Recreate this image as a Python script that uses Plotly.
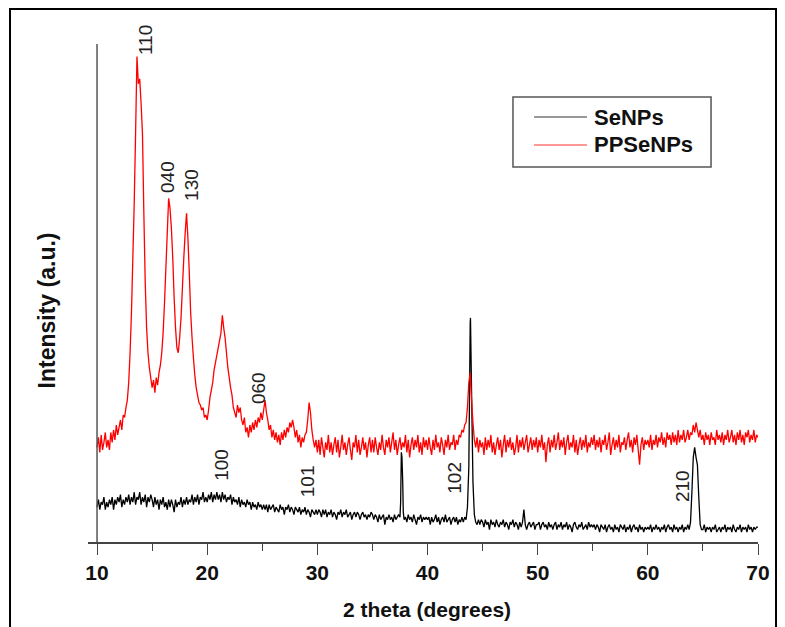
import numpy as np
import plotly.graph_objects as go

# XRD patterns, 2 theta in degrees, intensity in arbitrary units
x_grid = np.round(10 + 0.125 * np.arange(481), 3)

# PPSeNPs on the 0.125 deg grid, one row = 5 degrees (40 values)
red_y = [
    19, 21, 18, 21.5, 18.5, 20, 22, 19, 20.5, 18.5, 22, 20, 22.5, 20.5, 23.5, 21.5, 23, 24.5, 22.5, 25.5,
    25, 27, 28.5, 32, 38, 46, 57, 68, 82, 97.5, 92, 93, 88, 82, 66, 52, 43, 38, 35, 33,
    31, 32.5, 30, 33, 31.5, 34, 35.5, 38, 42, 48, 55, 62, 69, 67, 63, 57, 49, 43, 39, 38,
    41, 45, 51, 57, 62, 66, 61, 54, 46, 41, 37, 33.5, 31, 29.5, 28, 27.5, 26.5, 27, 25, 25.5,
    24.5, 26.5, 29, 30.5, 32, 34.5, 36, 37.5, 39, 40.5, 42, 45.5, 43, 41, 38, 35, 33, 31, 29.5, 27,
    26, 25, 27.5, 26, 27, 24.5, 23.5, 25, 22, 23, 21, 23.5, 22, 24, 22.5, 24.5, 23, 25, 24, 26,
    24.5, 26.5, 28.5, 26, 24.5, 22.5, 23.5, 21, 22.5, 20.5, 22, 20, 21.5, 19.5, 22, 20.5, 22.5, 21, 23, 22,
    24, 23, 24.5, 23, 21, 22.5, 20, 21.5, 19, 21, 20, 21.5, 22, 24.5, 28, 26, 22.5, 20.5, 19, 20.5,
    18, 20.5, 17.5, 21, 19, 17, 20, 18.5, 21.5, 18, 20, 17.5, 19.5, 21, 18, 20.5, 17, 19, 21.5, 18.5,
    20, 17.5, 19.5, 21, 18.5, 16.5, 20, 19, 21.5, 18, 20.5, 17.5, 19, 21, 18.5, 20, 17, 19.5, 21, 18,
    20.5, 18, 21, 19, 17.5, 20, 18.5, 21.5, 19, 17.5, 20.5, 19, 21, 18, 20, 22, 18.5, 20.5, 17.5, 19.5,
    21, 18.5, 20, 19, 21.5, 18, 20.5, 17, 19.5, 21, 18.5, 20.5, 19, 21.5, 18, 20, 17.5, 21, 19, 20.5,
    18.5, 21, 19, 17.5, 20.5, 18.5, 21.5, 19, 20, 18, 21, 19.5, 17.5, 20.5, 19, 21.5, 18.5, 20, 19.5, 21.5,
    18.5, 20.5, 19.5, 21.5, 21, 22.5, 22, 23.5, 24, 27, 32, 34, 28.5, 24, 20.5, 19, 21, 18, 20.5, 19,
    20, 17.5, 21, 18.5, 20.5, 19, 21.5, 18, 20, 17.5, 19.5, 21, 18.5, 20.5, 17, 19.5, 21.5, 18, 20.5, 19,
    21, 18.5, 20, 17.5, 19, 21.5, 18, 20.5, 19, 21, 18.5, 20, 21.5, 18, 19.5, 21, 18.5, 20.5, 19, 21,
    18, 20.5, 19, 21.5, 18.5, 20, 16, 19.5, 21, 18, 20.5, 19, 21.5, 18.5, 20, 22, 18.5, 20.5, 19, 21,
    17.5, 20, 21.5, 18.5, 20, 19, 21.5, 18, 20.5, 17.5, 19.5, 21, 18.5, 20.5, 19, 21.5, 18, 20, 19, 21,
    19.5, 21.5, 18.5, 20.5, 19, 21, 18, 20.5, 19.5, 21.5, 18.5, 20, 22, 17.5, 19.5, 21, 18.5, 20.5, 19, 21.5,
    18, 20, 19.5, 21, 18.5, 20.5, 22, 19, 20.5, 18, 21, 19.5, 21.5, 18.5, 15.5, 19.5, 21, 18.5, 20.5, 19.5,
    20.5, 19, 21.5, 18.5, 20.5, 19.5, 21.5, 19, 21, 20, 22, 19.5, 21, 19, 22, 20.5, 21.5, 19.5, 22, 20,
    21.5, 19.5, 22.5, 20, 21.5, 20.5, 22.5, 20, 21, 22.5, 20.5, 22, 21.5, 23.5, 22, 24, 22.5, 21, 22.5, 20.5,
    21.5, 19.5, 22, 20.5, 21.5, 19.5, 22, 20.5, 21, 19.5, 22.5, 20.5, 21.5, 20, 22, 19.5, 21.5, 20.5, 22.5, 20,
    21, 22.5, 20, 21.5, 19.5, 22, 20.5, 22.5, 20, 21.5, 19.5, 22, 21, 22.5, 20, 21.5, 20.5, 22.5, 20, 21.5,
    21,
]

# SeNPs on the same grid
black_y = [
    7, 8.5, 6.5, 8, 7.5, 9, 6.5, 8, 7, 8.5, 7.5, 9, 6.5, 8.5, 7.5, 9, 8, 9.5, 7, 8.5,
    7.5, 9, 8, 9.5, 7.5, 9, 8, 10, 7.5, 9, 8.5, 10, 7.5, 9, 8, 9.5, 7, 9, 8, 9.5,
    8.5, 7, 9, 7.5, 8.5, 6.5, 8.5, 7.5, 9, 7, 8, 6.5, 8.5, 7, 8.5, 7.5, 6, 8.5, 7, 8,
    7.5, 9, 7, 8.5, 7.5, 9, 7.5, 8.5, 8, 9.5, 7.5, 9, 8, 9.5, 7.5, 9, 8.5, 10, 8, 9,
    8, 9.5, 8.5, 10, 8, 9.5, 8.5, 10, 8.5, 9.5, 8, 10, 8.5, 9.5, 8, 9, 8.5, 9.5, 7.5, 9,
    8, 8.5, 7.5, 9, 7, 8.5, 7.5, 8, 7, 8.5, 7.5, 8, 6.5, 8, 7, 7.5, 6.5, 8, 7, 7.5,
    6.5, 7.5, 6.5, 7.5, 6, 7.5, 6.5, 7, 7.5, 6, 7, 6.5, 6, 7.5, 6.5, 7, 5.5, 7, 6.5, 7.5,
    6, 7, 6.5, 5.5, 7, 6.5, 6, 7, 5.5, 6.5, 6, 7, 5.5, 6.5, 6, 5, 6.5, 6, 5.5, 6.5,
    5.5, 6.5, 6, 5, 6.5, 5.5, 6.5, 5, 6, 5.5, 6.5, 5, 6, 5.5, 4.5, 6, 5.5, 6.5, 5, 6,
    5.5, 6.5, 5, 5.5, 6, 4.5, 5.5, 6, 5, 6, 5.5, 4.5, 5.5, 6, 5, 5.5, 4.5, 5.5, 5, 6,
    5.5, 4.5, 5.5, 5, 4, 5.5, 4.5, 5, 5.5, 3.5, 5, 4.5, 5.5, 4.5, 5, 4, 5.5, 4.5, 5, 5.5,
    5, 18, 12, 4.5, 5, 4, 5.5, 4.5, 5, 4, 5.5, 4.5, 3.5, 5, 4.5, 5.5, 4, 5, 4.5, 5,
    4.5, 5, 3.5, 5, 4, 4.5, 5.5, 4, 5, 3.5, 4.5, 5, 4, 5.5, 4, 4.5, 5, 3.5, 4.5, 5,
    4, 5, 3.5, 4.5, 4, 5, 4, 5, 4.5, 7, 15, 44, 30, 12, 5.5, 4, 3.5, 4.5, 3.5, 4.5,
    4, 3, 4.5, 3.5, 4, 2.5, 4.5, 3.5, 4, 3, 4.5, 3.5, 3, 4, 3.5, 4.5, 3, 4, 3.5, 2.5,
    4, 3.5, 4.5, 3, 4, 3.5, 2.5, 4, 3, 4, 6.5, 3.5, 2.5, 3.5, 4, 3, 3.5, 4, 2.5, 3.5,
    3.5, 4, 2.5, 3.5, 4, 3, 3.5, 2.5, 4, 3, 3.5, 2.5, 3.5, 4, 2.5, 3.5, 3, 4, 2.5, 3.5,
    3, 4, 2.5, 3.5, 3, 2, 3.5, 4, 3, 2.5, 3.5, 3, 4, 2.5, 3, 3.5, 2.5, 4, 3, 3.5,
    3, 3.5, 2.5, 3.5, 3, 2, 3.5, 3, 2.5, 3.5, 2, 3, 3.5, 2.5, 3, 2, 3.5, 2.5, 3, 2,
    3.5, 3, 2.5, 3.5, 2, 3, 2.5, 3.5, 2, 3, 3.5, 2.5, 3, 2, 3.5, 2.5, 3, 2, 3, 2.5,
    3, 2.5, 3.5, 2, 3, 2.5, 3.5, 2.5, 3, 2, 3, 2.5, 3.5, 2, 3, 3.5, 2.5, 3, 2, 3.5,
    2.5, 3, 2, 3, 2.5, 3.5, 2, 3, 2.5, 3.5, 2.5, 4, 10, 17, 19, 17, 15.5, 9, 3.5, 2.5,
    2.5, 3.5, 2, 3, 2.5, 3, 2, 3, 2.5, 3.5, 2, 2.5, 3, 2, 3, 2.5, 3.5, 2, 3, 2.5,
    3, 2, 3.5, 2.5, 2, 3, 2.5, 3.5, 2, 3, 2.5, 3, 2, 3.5, 2.5, 3, 2, 3, 2.5, 3,
    3,
]
# extra points on the narrow Se reflections
black_peak_x = [37.56, 37.68, 37.8, 43.9]
black_peak_y = [8, 17, 6, 45]

# hkl labels
hkl_text = ["040", "130", "060", "100", "101", "102", "210"]
hkl_x = [16.44, 18.62, 24.61, 21.34, 29.06, 42.49, 63.09]
hkl_y = [73.3, 71.7, 30.9, 15.5, 12.2, 12.9, 11.2]
top_label = "110"       # sits above the top of the axis
top_label_x = 14.36

tick_vals = [10, 20, 30, 40, 50, 60, 70]
minor_vals = [15, 25, 35, 45, 55, 65]

assert len(red_y) == len(x_grid), len(red_y)
assert len(black_y) == len(x_grid), len(black_y)

bx = np.concatenate([x_grid, black_peak_x])
by = np.concatenate([np.array(black_y, float), black_peak_y])
order = np.argsort(bx, kind="stable")
bx, by = bx[order], by[order]

FONT = "Liberation Sans, Arial, sans-serif"

fig = go.Figure()
fig.add_trace(go.Scatter(x=bx, y=by, mode="lines", name="SeNPs",
                         line=dict(color="#000000", width=1.3, simplify=False)))
fig.add_trace(go.Scatter(x=x_grid, y=red_y, mode="lines", name="PPSeNPs",
                         line=dict(color="#ff0000", width=1.3, simplify=False)))

for t, xv, yv in zip(hkl_text, hkl_x, hkl_y):
    fig.add_annotation(x=xv, y=yv, xref="x", yref="y", text=t, textangle=-90,
                       xanchor="center", yanchor="middle", showarrow=False,
                       font=dict(family=FONT, size=19, color="#222222"))
fig.add_annotation(x=top_label_x, y=1.008, xref="x", yref="paper", text=top_label, textangle=-90,
                   xanchor="center", yanchor="middle", showarrow=False,
                   font=dict(family=FONT, size=19, color="#222222"))

# axis titles
fig.add_annotation(x=0.506, y=-0.1365, xref="paper", yref="paper", text="<b>2 theta (degrees)</b>",
                   xanchor="center", yanchor="middle", showarrow=False,
                   font=dict(family=FONT, size=21, color="#111111"))
fig.add_annotation(x=-0.0612, y=0.465, xref="paper", yref="paper", text="<b>Intensity (a.u.)</b>",
                   textangle=-90, xanchor="center", yanchor="middle", showarrow=False,
                   font=dict(family=FONT, size=23, color="#111111"))

# legend box drawn by hand (Origin style: long sample lines)
leg = [("SeNPs", "#333333", 0.8534), ("PPSeNPs", "#ff3030", 0.7972)]
shapes = [
    dict(type="rect", xref="paper", yref="paper", x0=-0.1164, x1=1.0269, y0=-0.25, y1=1.0703,
         line=dict(color="#000000", width=2)),
    dict(type="line", xref="x", yref="y", x0=10, x1=10, y0=0, y1=100,
         line=dict(color="#555555", width=1.5)),
    dict(type="rect", xref="paper", yref="paper", x0=0.6343, x1=0.9299, y0=0.7530, y1=0.8936,
         line=dict(color="#555555", width=1.5)),
]
for name, col, yy in leg:
    shapes.append(dict(type="line", xref="paper", yref="paper", x0=0.6657, x1=0.7448, y0=yy, y1=yy,
                       line=dict(color=col, width=1.2)))
    fig.add_annotation(x=0.7522, y=yy, xref="paper", yref="paper", text="<b>%s</b>" % name,
                       xanchor="left", yanchor="middle", showarrow=False,
                       font=dict(family=FONT, size=22, color="#111111"))

# page body has an 8px margin, so the figure is 8px smaller than the window
fig.update_layout(
    width=777, height=619,
    margin=dict(l=80, r=27, t=36, b=85),
    paper_bgcolor="white", plot_bgcolor="white",
    showlegend=False, shapes=shapes,
    font=dict(family=FONT, color="#111111"),
)
fig.update_xaxes(range=[9.18, 70], tickvals=tick_vals, ticktext=["<b>%d</b>" % v for v in tick_vals],
                 ticks="outside", ticklen=11, tickwidth=1.3, tickcolor="#444444",
                 minor=dict(ticks="outside", ticklen=7, tickwidth=1.3, tickcolor="#444444",
                            tickvals=minor_vals),
                 showline=True, linecolor="#444444", linewidth=1.5,
                 showgrid=False, zeroline=False, tickfont=dict(family=FONT, size=21, color="#111111"))
fig.update_yaxes(range=[0, 100], showline=False, showticklabels=False, ticks="",
                 showgrid=False, zeroline=False)

fig.write_html("out.html")
